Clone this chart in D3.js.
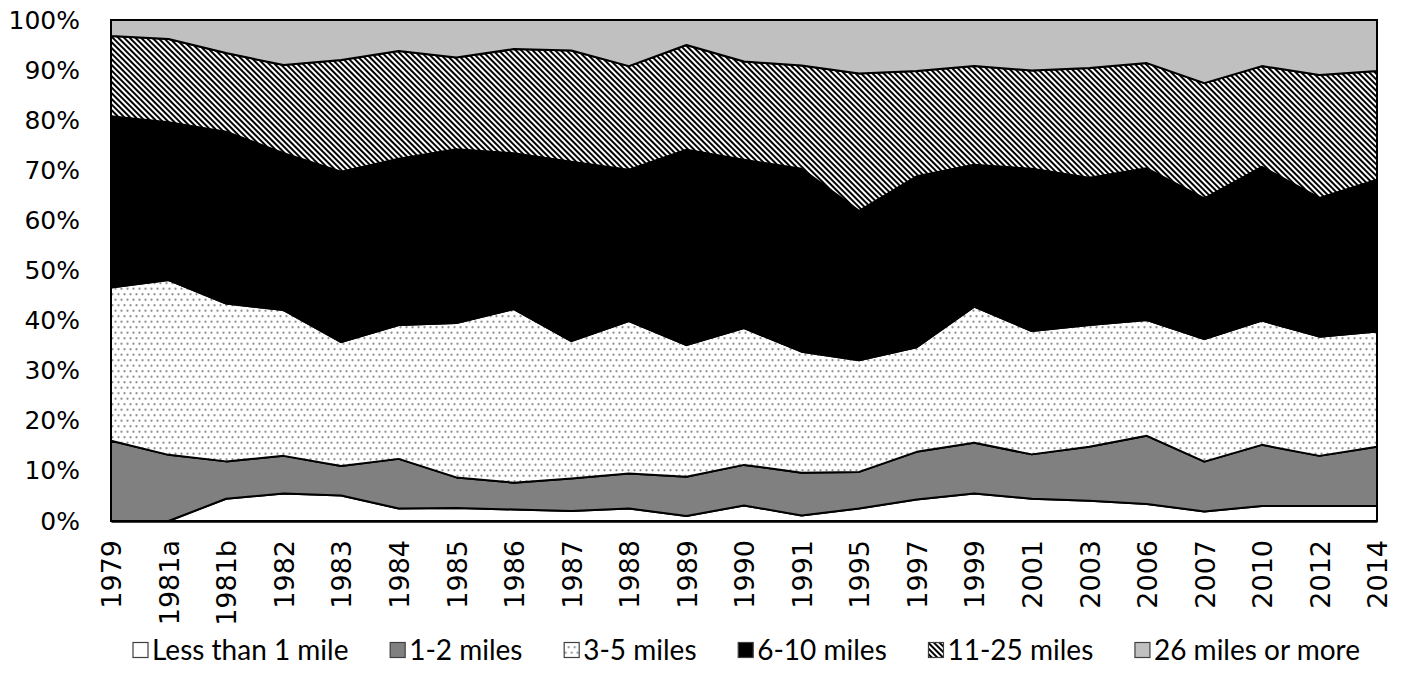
<!DOCTYPE html>
<html>
<head>
<meta charset="utf-8">
<script src="https://cdn.jsdelivr.net/npm/d3@7"></script>
<style>
  html, body { margin: 0; padding: 0; background: #fff; }
  svg { display: block; }
</style>
</head>
<body>
<svg id="chart" width="1406" height="691"></svg>
<script>
// ---- data (percent of trips) ----
const categories = ["1979","1981a","1981b","1982","1983","1984","1985","1986","1987","1988","1989","1990","1991","1995","1997","1999","2001","2003","2006","2007","2010","2012","2014"];
const seriesNames = ["Less than 1 mile","1-2 miles","3-5 miles","6-10 miles","11-25 miles","26 miles or more"];
const lessThan1 = [0.0,0.0,4.45,5.5,5.1,2.5,2.6,2.3,2.0,2.5,1.0,3.1,1.1,2.5,4.3,5.5,4.45,4.05,3.4,1.9,3.0,3.0,3.0];
const miles1to2 = [16.0,13.2,7.45,7.5,5.9,9.9,6.1,5.35,6.5,7.0,7.85,8.1,8.55,7.3,9.5,10.1,8.85,10.75,13.6,9.95,12.2,10.0,11.8];
const miles3to5 = [30.6,34.9,31.5,29.1,24.7,26.7,30.8,34.65,27.4,30.4,26.25,27.3,24.15,22.3,20.9,27.2,24.6,24.3,23.1,24.45,24.8,23.8,23.0];
const miles6to10 = [34.2,31.5,34.3,31.3,34.0,33.2,34.7,31.1,35.8,30.2,39.0,33.6,36.5,29.8,34.1,28.3,32.4,29.4,30.3,28.1,30.7,27.7,30.3];
const miles11to25 = [16.0,16.6,15.7,17.6,22.3,21.5,18.3,20.8,22.2,20.7,20.9,19.6,20.6,27.4,21.0,19.7,19.6,21.9,21.0,23.0,20.1,24.5,21.7];
const miles26plus = [3.2,3.8,6.6,9.0,8.0,6.2,7.5,5.8,6.1,9.2,5.0,8.3,9.1,10.7,10.2,9.2,10.1,9.6,8.6,12.6,9.2,11.0,10.2];
const yTicks = [0,10,20,30,40,50,60,70,80,90,100];

const seriesValues = [lessThan1, miles1to2, miles3to5, miles6to10, miles11to25, miles26plus];
const rows = categories.map((c, i) => {
  const r = { cat: c };
  seriesNames.forEach((n, k) => { r[n] = seriesValues[k][i]; });
  return r;
});

// ---- layout ----
const svg = d3.select("#chart");
const plotL = 111, plotR = 1377, plotT = 20, plotB = 521;

const x = d3.scalePoint().domain(categories).range([plotL, plotR]);
const y = d3.scaleLinear().domain([0, 100]).range([plotB, plotT]);

// ---- patterns ----
const defs = svg.append("defs");
const dots = defs.append("pattern").attr("id", "dots")
  .attr("patternUnits", "userSpaceOnUse").attr("width", 6).attr("height", 11);
dots.append("rect").attr("width", 6).attr("height", 11).attr("fill", "#fff");
dots.append("circle").attr("cx", 1.5).attr("cy", 2.75).attr("r", 1.15).attr("fill", "#959595");
dots.append("circle").attr("cx", 4.5).attr("cy", 8.25).attr("r", 1.15).attr("fill", "#959595");

const stripes = defs.append("pattern").attr("id", "stripes")
  .attr("patternUnits", "userSpaceOnUse").attr("width", 4).attr("height", 4)
  .attr("patternTransform", "rotate(-45)");
stripes.append("rect").attr("width", 4).attr("height", 4).attr("fill", "#fff");
stripes.append("rect").attr("width", 2).attr("height", 4).attr("fill", "#000");

const fills = ["#ffffff", "#808080", "url(#dots)", "#000000", "url(#stripes)", "#c0c0c0"];

// ---- stacked areas ----
const stack = d3.stack().keys(seriesNames);
const layers = stack(rows);

const area = d3.area()
  .x(d => x(d.data.cat))
  .y0(d => y(d[0]))
  .y1(d => y(d[1]));

svg.append("g").selectAll("path").data(layers).join("path")
  .attr("d", area)
  .attr("fill", (d, i) => fills[i])
  .attr("stroke", "#000")
  .attr("stroke-width", 2)
  .attr("stroke-linejoin", "round");

// plot frame
svg.append("rect")
  .attr("x", plotL).attr("y", plotT)
  .attr("width", plotR - plotL).attr("height", plotB - plotT)
  .attr("fill", "none").attr("stroke", "#000").attr("stroke-width", 2);

// ---- y axis ----
const yAxis = svg.append("g").attr("transform", `translate(${plotL},0)`)
  .call(d3.axisLeft(y).tickValues(yTicks).tickSize(0).tickPadding(31).tickFormat(d => d + "%"));
yAxis.select(".domain").remove();
yAxis.selectAll("text")
  .attr("font-family", "DejaVu Sans").attr("font-size", 25).attr("fill", "#000");

// ---- x axis ----
const xAxis = svg.append("g").attr("transform", `translate(0,${plotB})`)
  .call(d3.axisBottom(x).tickSize(0).tickPadding(0));
xAxis.select(".domain").attr("stroke", "#000").attr("stroke-width", 2.5);
xAxis.selectAll("text")
  .attr("font-family", "DejaVu Sans").attr("font-size", 27).attr("fill", "#000")
  .attr("text-anchor", "end")
  .attr("transform", "translate(0,19) rotate(-90)")
  .attr("x", 0).attr("y", 0).attr("dy", "0.36em");

// ---- legend ----
const legend = svg.append("g").attr("transform", "translate(0,650)");
const items = legend.selectAll("g").data(seriesNames).join("g");
items.append("rect")
  .attr("x", 0).attr("y", -7.5).attr("width", 15).attr("height", 15)
  .attr("fill", (d, i) => fills[i])
  .attr("stroke", "#404040").attr("stroke-width", 1.2);
items.append("text")
  .attr("x", 19).attr("y", 0).attr("dy", "0.36em")
  .attr("font-family", "Lato").attr("font-size", 28).attr("fill", "#000")
  .text(d => d);
const legendStart = 133, legendEnd = 1360;
const widths = [];
items.each(function () { widths.push(19 + this.querySelector("text").getComputedTextLength()); });
const gap = (legendEnd - legendStart - d3.sum(widths)) / (widths.length - 1);
let cx = legendStart;
items.attr("transform", (d, i) => {
  const t = `translate(${cx},0)`;
  cx += widths[i] + gap;
  return t;
});
</script>
</body>
</html>
